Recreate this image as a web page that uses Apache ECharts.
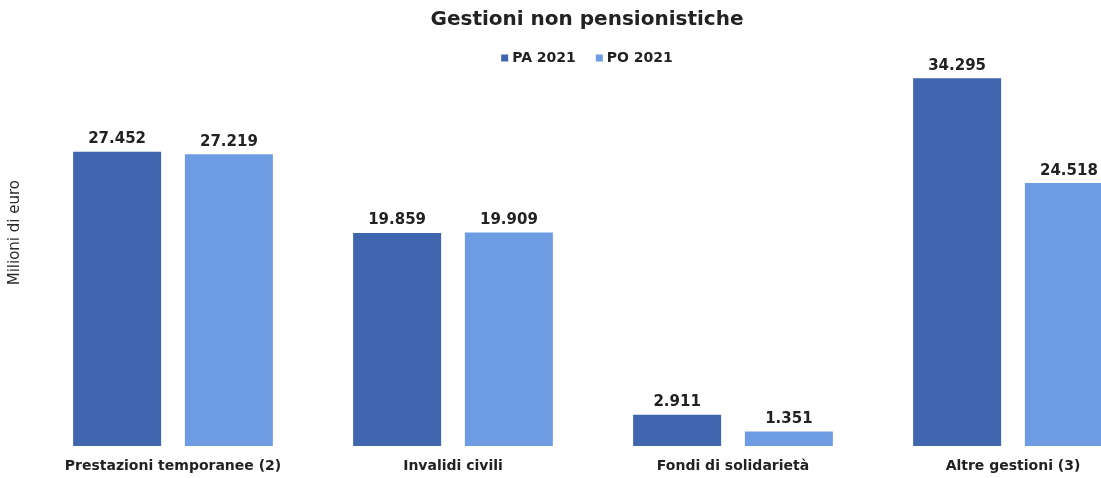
<!DOCTYPE html>
<html>
<head>
<meta charset="utf-8">
<script src="https://cdn.jsdelivr.net/npm/echarts@6/dist/echarts.min.js"></script>
<style>
  html, body { margin: 0; padding: 0; background: #fff; overflow: hidden; }
  #chart { width: 1174px; height: 478px; }
</style>
</head>
<body>
<div id="chart"></div>
<script>
const categories = ['Prestazioni temporanee (2)', 'Invalidi civili', 'Fondi di solidarietà', 'Altre gestioni (3)']
const seriesNames = ['PA 2021', 'PO 2021']
const paValues = [27452, 19859, 2911, 34295]
const poValues = [27219, 19909, 1351, 24518]

const fmt = (v) => String(v).replace(/\B(?=(\d{3})+(?!\d))/g, '.')

const chart = echarts.init(document.getElementById('chart'))

const labelStyle = {
  show: true,
  position: 'top',
  distance: 5,
  fontFamily: 'DejaVu Sans',
  fontWeight: 'bold',
  fontSize: 15,
  color: '#222',
  formatter: (p) => fmt(p.value)
}

chart.setOption({
  animation: false,
  title: {
    text: 'Gestioni non pensionistiche',
    left: 'center',
    top: 5,
    textStyle: { fontFamily: 'DejaVu Sans', fontWeight: 'bold', fontSize: 20, color: '#222' }
  },
  legend: {
    data: seriesNames,
    top: 46,
    left: 'center',
    icon: 'rect',
    itemWidth: 7,
    itemHeight: 7,
    itemGap: 20,
    textStyle: { fontFamily: 'DejaVu Sans', fontWeight: 'bold', fontSize: 14, color: '#222', padding: [0, 0, 0, -1] }
  },
  graphic: [
    {
      type: 'text',
      left: 8,
      top: 180,
      rotation: Math.PI / 2,
      style: {
        text: 'Milioni di euro',
        fontFamily: 'DejaVu Sans',
        fontSize: 15,
        fill: '#2a2a2a'
      }
    }
  ],
  grid: { left: 33, right: 21, top: 60, bottom: 32 },
  xAxis: {
    type: 'category',
    data: categories,
    axisLine: { show: false },
    axisTick: { show: false },
    axisLabel: {
      interval: 0,
      margin: 13,
      fontFamily: 'DejaVu Sans',
      fontWeight: 'bold',
      fontSize: 14,
      color: '#222'
    }
  },
  yAxis: {
    type: 'value',
    min: 0,
    max: 36000,
    axisLine: { show: false },
    axisTick: { show: false },
    axisLabel: { show: false },
    splitLine: { show: false }
  },
  series: [
    {
      name: seriesNames[0],
      type: 'bar',
      data: paValues,
      barWidth: 88,
      barGap: '27%',
      itemStyle: { color: '#3e65ae' },
      label: labelStyle
    },
    {
      name: seriesNames[1],
      type: 'bar',
      data: poValues,
      barWidth: 88,
      itemStyle: { color: '#6e9ce3' },
      label: labelStyle
    }
  ]
})
</script>
</body>
</html>
